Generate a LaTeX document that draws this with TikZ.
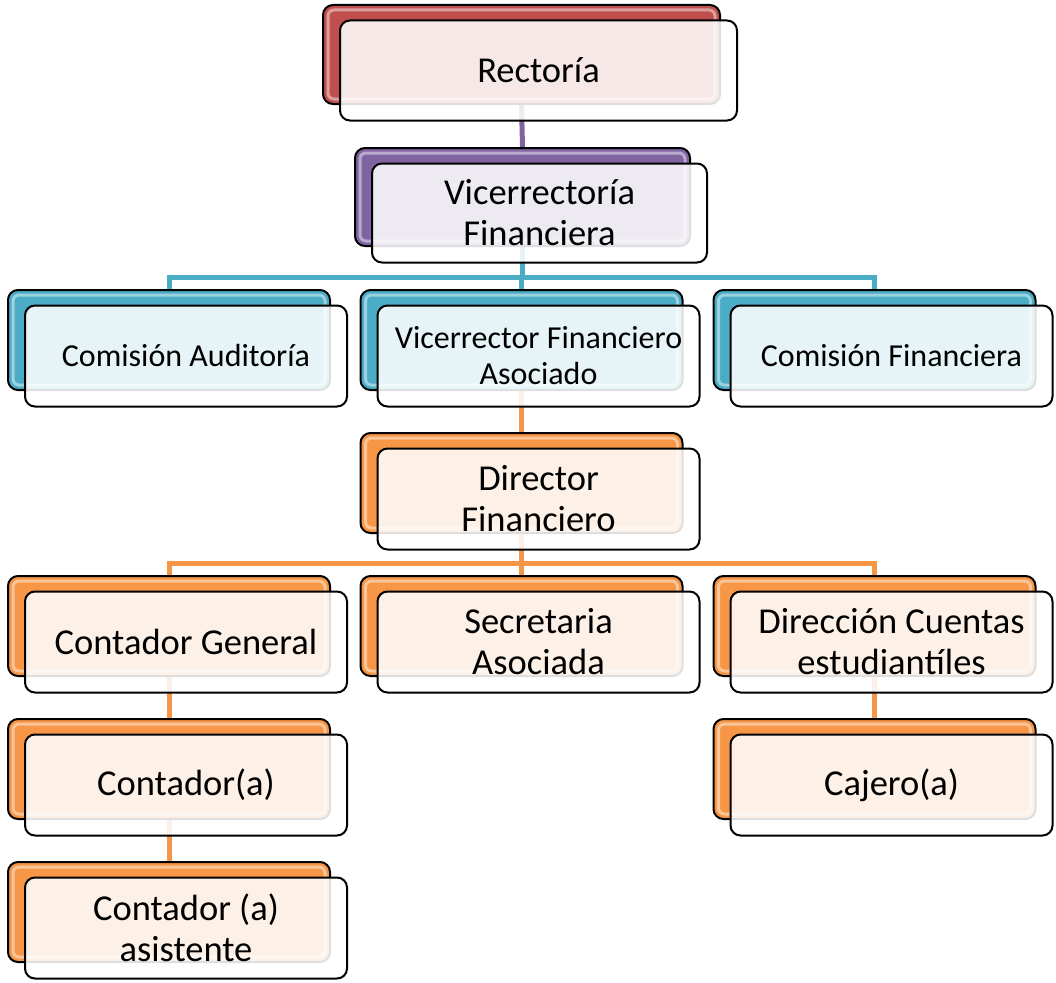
\documentclass[tikz,border=0pt]{standalone}
\usepackage{fontspec}
\setmainfont{Carlito}
\usetikzlibrary{backgrounds}
\definecolor{cred}{HTML}{C0504D}
\definecolor{cpurple}{HTML}{8064A2}
\definecolor{cteal}{HTML}{4BACC6}
\definecolor{corange}{HTML}{F79646}
\tikzset{
  backbox/.style={draw=black, line width=2pt, rounded corners=10pt, fill=#1, inner sep=0pt,
    path picture={\draw[white, opacity=.45, line width=3pt, rounded corners=6pt]
      ([shift={(5pt,-5pt)}]path picture bounding box.north west) rectangle
      ([shift={(-5pt,5pt)}]path picture bounding box.south east);}},
  frontbox/.style={draw=black, line width=2pt, rounded corners=10pt, fill=white, fill opacity=.87,
    text opacity=1, draw opacity=1, inner sep=0pt, align=center},
  bigtext/.style={font=\fontsize{36.5}{41}\selectfont},
  smalltext/.style={font=\fontsize{32}{36}\selectfont},
  conn/.style={draw=#1, line width=5pt},
}
% name, x, y, w, h, colour, text style, text
\newcommand\orgbox[8]{%
  \node[backbox=#6, minimum width=#4, minimum height=#5] (#1b) at (#2,#3) {};
  \node[frontbox, #7, minimum width=#4, minimum height=#5+1] (#1) at (#2+17,#3+16) {#8};
}
\begin{document}
\begin{tikzpicture}[x=1pt, y=-1pt]
\useasboundingbox (0,0) rectangle (1056,982);
\coordinate (busA) at (0,277);
\coordinate (busB) at (0,563);
% --- boxes
\orgbox{rec}{521.5}{54.5}{397}{99}{cred}{bigtext}{Rectoría}
\orgbox{vf}{522.5}{197}{335}{98}{cpurple}{bigtext}{Vicerrectoría\\Financiera}
\orgbox{ca}{169}{340}{322}{100}{cteal}{smalltext}{Comisión Auditoría}
\orgbox{vfa}{521.5}{340}{322}{100}{cteal}{smalltext}{Vicerrector Financiero\\Asociado}
\orgbox{cf}{874.5}{340}{322}{100}{cteal}{smalltext}{Comisión Financiera}
\orgbox{df}{521.5}{483}{322}{100}{corange}{bigtext}{Director\\Financiero}
\orgbox{cg}{169}{626}{322}{100}{corange}{bigtext}{Contador General}
\orgbox{sa}{521.5}{626}{322}{100}{corange}{bigtext}{Secretaria\\Asociada}
\orgbox{dce}{874.5}{626}{322}{100}{corange}{bigtext}{Dirección Cuentas\\estudiantíles}
\orgbox{ct}{169}{769}{322}{100}{corange}{bigtext}{Contador(a)}
\orgbox{cj}{874.5}{769}{322}{100}{corange}{bigtext}{Cajero(a)}
\orgbox{cas}{169}{912}{322}{100}{corange}{bigtext}{Contador (a)\\asistente}
% --- connectors behind the boxes
\begin{pgfonlayer}{background}
\draw[conn=cpurple] (recb.south) -- (vfb.north);
\draw[conn=cteal] (vfb.south) -- (vfb.south |- busA);
\draw[conn=cteal] (cab.north) -- (cab.north |- busA) -- (cfb.north |- busA) -- (cfb.north);
\draw[conn=cteal] (vfab.north) -- (vfab.north |- busA);
\draw[conn=corange] (vfab.south) -- (dfb.north);
\draw[conn=corange] (dfb.south) -- (dfb.south |- busB);
\draw[conn=corange] (cgb.north) -- (cgb.north |- busB) -- (dceb.north |- busB) -- (dceb.north);
\draw[conn=corange] (sab.north) -- (sab.north |- busB);
\draw[conn=corange] (cgb.south) -- (ctb.north);
\draw[conn=corange] (ctb.south) -- (casb.north);
\draw[conn=corange] (dceb.south) -- (cjb.north);
\end{pgfonlayer}
\end{tikzpicture}
\end{document}
